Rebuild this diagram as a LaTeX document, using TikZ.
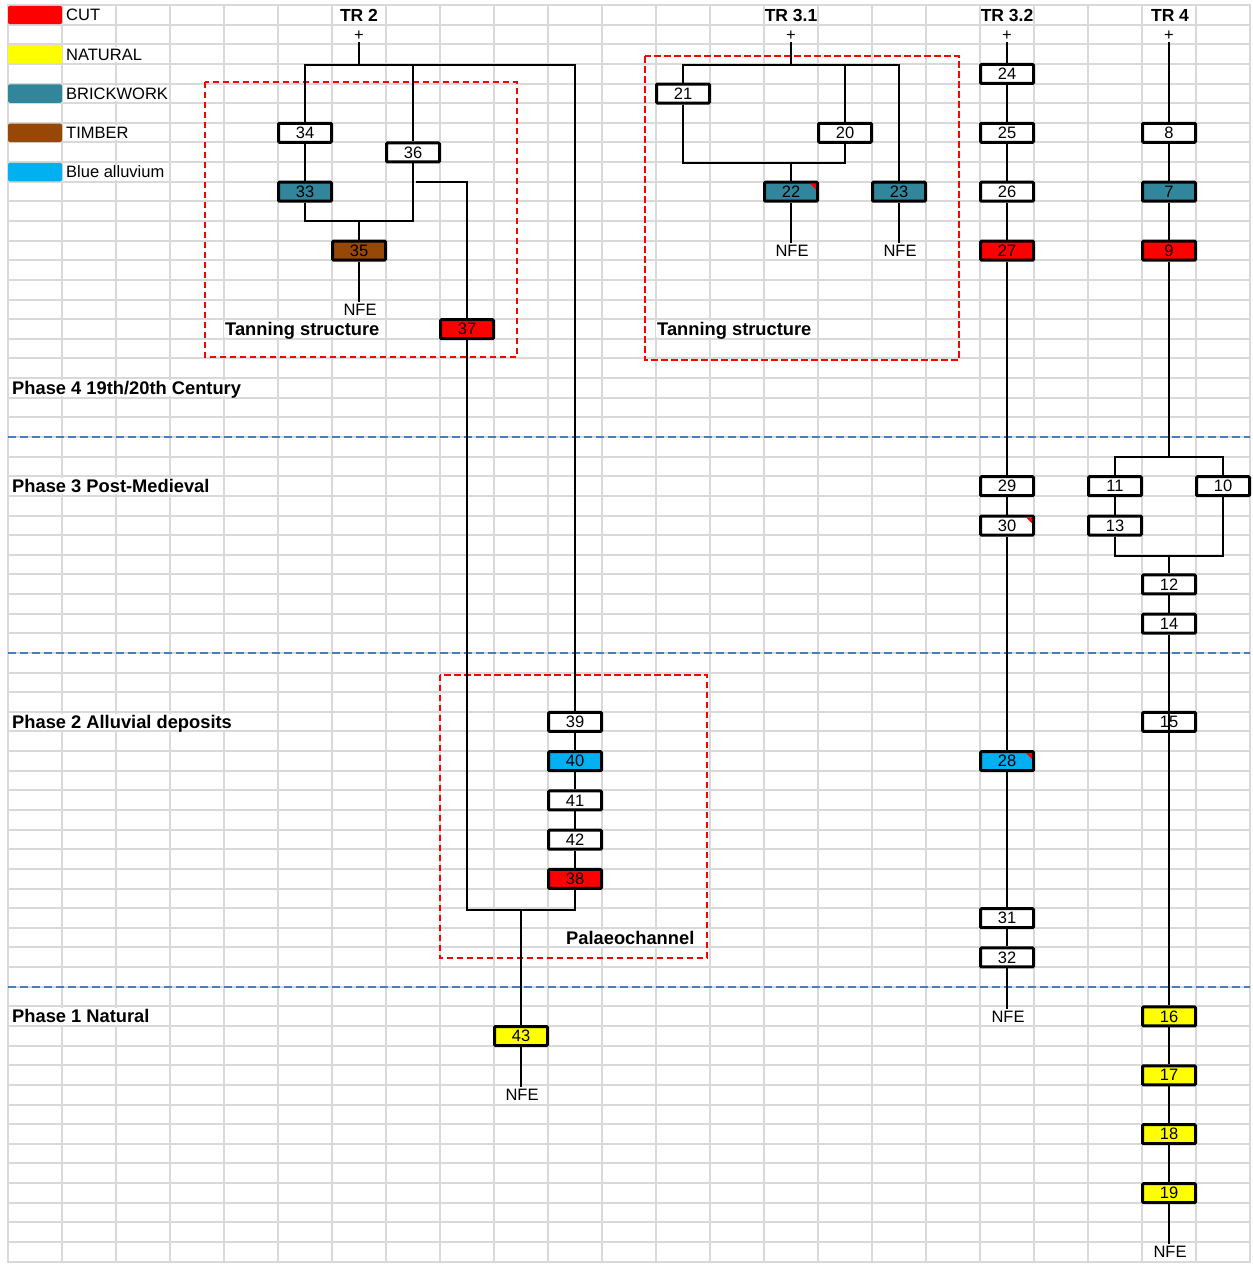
\documentclass[tikz,border=0pt]{standalone}
\usepackage{fontspec}
\setmainfont{Liberation Sans}
\definecolor{cutc}{RGB}{255,0,0}
\definecolor{natc}{RGB}{255,255,0}
\definecolor{brkc}{RGB}{49,134,155}
\definecolor{timc}{RGB}{151,72,6}
\definecolor{bluc}{RGB}{0,176,240}
\definecolor{gridc}{RGB}{217,217,217}
\definecolor{phasec}{RGB}{74,126,187}
\pgfdeclarelayer{gridlayer}
\pgfdeclarelayer{linelayer}
\pgfsetlayers{gridlayer,linelayer,main}
\tikzset{
  ubox/.style={draw=black, line width=3pt, fill=white, minimum width=53pt, minimum height=19pt,
    inner sep=0pt, rounded corners=1pt, font=\fontsize{16.5}{18}\selectfont},
  cutbox/.style={ubox, fill=cutc},
  natbox/.style={ubox, fill=natc},
  brkbox/.style={ubox, fill=brkc},
  timbox/.style={ubox, fill=timc},
  blubox/.style={ubox, fill=bluc},
  lbl/.style={font=\fontsize{16.5}{18}\selectfont, inner xsep=1pt, inner ysep=0pt,
    text height=13.4pt, text depth=1.6pt},
  wlbl/.style={lbl, fill=white},
  blbl/.style={font=\bfseries\fontsize{18.3}{20}\selectfont, fill=white, inner xsep=1pt, inner ysep=0pt,
    text height=14.8pt, text depth=1.7pt},
  hdr/.style={font=\bfseries\fontsize{17.5}{19}\selectfont, inner xsep=1pt, inner ysep=0pt,
    text height=14.2pt, text depth=1.6pt},
  conn/.style={line width=1.5pt, black},
  zone/.style={draw=red, dash pattern=on 6.5pt off 3.5pt, line width=1.6pt},
  phaseline/.style={draw=phasec, dash pattern=on 8pt off 4pt, line width=1.5pt},
  legbox/.style={rounded corners=2pt},
  gridline/.style={draw=gridc, line width=2pt},
  flag/.style={fill=red}
}
\begin{document}
\begin{tikzpicture}[x=1pt, y=-19.635pt]
\useasboundingbox (0,-0.76394) rectangle (1252,63.6107);
\begin{pgfonlayer}{gridlayer}
  \fill[white] (0,-0.76394) rectangle (1252,63.6107);
  \foreach \k in {0,...,23} \draw[gridline] ({8+54*\k},-0.56) -- ({8+54*\k},63.56);
  \foreach \k in {0,...,64} \draw[gridline] (7,\k-0.51) -- (1251,\k-0.51);
\end{pgfonlayer}

% legend
\fill[cutc, legbox] (8,-0.47) rectangle (62,0.47);
\fill[natc, legbox] (8,1.53) rectangle (62,2.47);
\fill[brkc, legbox] (8,3.53) rectangle (62,4.47);
\fill[timc, legbox] (8,5.53) rectangle (62,6.47);
\fill[bluc, legbox] (8,7.53) rectangle (62,8.47);
\node[wlbl, anchor=west] (lgcut) at (65,0) {CUT};
\node[wlbl, anchor=west] (lgnat) at (65,2) {NATURAL};
\node[wlbl, anchor=west] (lgbrk) at (65,4) {BRICKWORK};
\node[wlbl, anchor=west] (lgtim) at (65,6) {TIMBER};
\node[wlbl, anchor=west] (lgblu) at (65,8) {Blue alluvium};

% headers
\node[hdr] (tr2) at (359,0) {TR 2};
\node[hdr] (tr31) at (791,0) {TR 3.1};
\node[hdr] (tr32) at (1007,0) {TR 3.2};
\node[hdr] (tr4) at (1170,0) {TR 4};
\node[lbl] (p2) at (359,1) {+};
\node[lbl] (p31) at (791,1) {+};
\node[lbl] (p32) at (1007,1) {+};
\node[lbl] (p4) at (1169,1) {+};

% phase labels
\node[blbl, anchor=west] (ph4) at (11,19) {Phase 4 19th/20th Century};
\node[blbl, anchor=west] (ph3) at (11,24) {Phase 3 Post-Medieval};
\node[blbl, anchor=west] (ph2) at (11,36) {Phase 2 Alluvial deposits};
\node[blbl, anchor=west] (ph1) at (11,51) {Phase 1 Natural};

% zone labels
\node[blbl, anchor=west] (zt2) at (224,16) {Tanning structure};
\node[blbl, anchor=west] (zt31) at (656,16) {Tanning structure};
\node[blbl, anchor=west] (zpal) at (565,47) {Palaeochannel};

% TR2 units
\node[ubox] (n34) at (305,6) {34};
\node[ubox] (n36) at (413,7) {36};
\node[brkbox] (n33) at (305,9) {33};
\node[timbox] (n35) at (359,12) {35};
\node[lbl] (nfe35) at (360,15) {NFE};
\node[cutbox] (n37) at (467,16) {37};
\node[ubox] (n39) at (575,36) {39};
\node[blubox] (n40) at (575,38) {40};
\node[ubox] (n41) at (575,40) {41};
\node[ubox] (n42) at (575,42) {42};
\node[cutbox] (n38) at (575,44) {38};
\node[natbox] (n43) at (521,52) {43};
\node[lbl] (nfe43) at (522,55) {NFE};

% TR3.1 units
\node[ubox] (n21) at (683,4) {21};
\node[ubox] (n20) at (845,6) {20};
\node[brkbox] (n22) at (791,9) {22};
\node[brkbox] (n23) at (899,9) {23};
\node[lbl] (nfe22) at (792,12) {NFE};
\node[lbl] (nfe23) at (900,12) {NFE};

% TR3.2 units
\node[ubox] (n24) at (1007,3) {24};
\node[ubox] (n25) at (1007,6) {25};
\node[ubox] (n26) at (1007,9) {26};
\node[cutbox] (n27) at (1007,12) {27};
\node[ubox] (n29) at (1007,24) {29};
\node[ubox] (n30) at (1007,26) {30};
\node[blubox] (n28) at (1007,38) {28};
\node[ubox] (n31) at (1007,46) {31};
\node[ubox] (n32) at (1007,48) {32};
\node[lbl] (nfe32) at (1008,51) {NFE};

% TR4 units
\node[ubox] (n8) at (1169,6) {8};
\node[brkbox] (n7) at (1169,9) {7};
\node[cutbox] (n9) at (1169,12) {9};
\node[ubox] (n11) at (1115,24) {11};
\node[ubox] (n10) at (1223,24) {10};
\node[ubox] (n13) at (1115,26) {13};
\node[ubox] (n12) at (1169,29) {12};
\node[ubox] (n14) at (1169,31) {14};
\node[ubox] (n15) at (1169,36) {15};
\node[natbox] (n16) at (1169,51) {16};
\node[natbox] (n17) at (1169,54) {17};
\node[natbox] (n18) at (1169,57) {18};
\node[natbox] (n19) at (1169,60) {19};
\node[lbl] (nfe4) at (1170,63) {NFE};

% comment flags
\fill[flag] ([xshift=-3pt,yshift=-3pt]n22.north east) -- ++(-6pt,0pt) -- ++(6pt,-6pt) -- cycle;
\fill[flag] ([xshift=-3pt,yshift=-3pt]n30.north east) -- ++(-6pt,0pt) -- ++(6pt,-6pt) -- cycle;
\fill[flag] ([xshift=-3pt,yshift=-3pt]n28.north east) -- ++(-6pt,0pt) -- ++(6pt,-6pt) -- cycle;

\begin{pgfonlayer}{linelayer}
  % zones and phase lines
  \draw[zone] (205,3.41) rectangle (517,17.42);
  \draw[zone] (645,2.09) rectangle (959,17.57);
  \draw[zone] (440,33.6) rectangle (707,48.026);
  \draw[phaseline] (8,21.49) -- (1250,21.49);
  \draw[phaseline] (8,32.49) -- (1250,32.49);
  \draw[phaseline] (8,49.49) -- (1250,49.49);

  % TR2 connectors
  \coordinate (j2) at (359,2.55);
  \draw[conn] (p2.south) -- (j2);
  \draw[conn] (n34.north) -- (n34.north |- j2) -- (n39.north |- j2) -- (n39.north);
  \draw[conn] (n36.north) -- (n36.north |- j2);
  \draw[conn] (n34) -- (n33);
  \coordinate (j35) at (359,10.5);
  \draw[conn] (n33.south) -- (n33.south |- j35) -- (n36.south |- j35) -- (n36.south);
  \draw[conn] (j35) -- (n35.north);
  \draw[conn] (n35.south) -- (n35.south |- nfe35.north);
  \coordinate (b36) at (416,8.5);
  \draw[conn] (b36) -| (n37.north);
  \coordinate (j43) at (521,45.58);
  \draw[conn] (n37.south) -- (n37.south |- j43) -- (n38.south |- j43) -- (n38.south);
  \draw[conn] (j43) -- (n43.north);
  \draw[conn] (n43.south) -- (n43.south |- nfe43.north);
  \draw[conn] (n39) -- (n40);
  \draw[conn] (n40) -- (n41);
  \draw[conn] (n41) -- (n42);
  \draw[conn] (n42) -- (n38);

  % TR3.1 connectors
  \coordinate (j31) at (791,2.55);
  \draw[conn] (p31.south) -- (j31);
  \draw[conn] (n21.north) -- (n21.north |- j31) -- (n23.north |- j31) -- (n23.north);
  \draw[conn] (n20.north) -- (n20.north |- j31);
  \coordinate (j22) at (791,7.54);
  \draw[conn] (n21.south) -- (n21.south |- j22) -- (n20.south |- j22) -- (n20.south);
  \draw[conn] (j22) -- (n22.north);
  \draw[conn] (n22.south) -- (n22.south |- nfe22.north);
  \draw[conn] (n23.south) -- (n23.south |- nfe23.north);

  % TR3.2 connectors
  \draw[conn] (p32.south) -- (n24.north);
  \draw[conn] (n24) -- (n25);
  \draw[conn] (n25) -- (n26);
  \draw[conn] (n26) -- (n27);
  \draw[conn] (n27) -- (n29);
  \draw[conn] (n29) -- (n30);
  \draw[conn] (n30) -- (n28);
  \draw[conn] (n28) -- (n31);
  \draw[conn] (n31) -- (n32);
  \draw[conn] (n32.south) -- (n32.south |- nfe32.north);

  % TR4 connectors
  \draw[conn] (p4.south) -- (n8.north);
  \draw[conn] (n8) -- (n7);
  \draw[conn] (n7) -- (n9);
  \coordinate (j4a) at (1169,22.51);
  \draw[conn] (n9.south) -- (j4a);
  \draw[conn] (n11.north) -- (n11.north |- j4a) -- (n10.north |- j4a) -- (n10.north);
  \draw[conn] (n11) -- (n13);
  \coordinate (j4b) at (1169,27.55);
  \draw[conn] (n13.south) -- (n13.south |- j4b) -- (n10.south |- j4b) -- (n10.south);
  \draw[conn] (j4b) -- (n12.north);
  \draw[conn] (n12) -- (n14);
  \draw[conn] (n14) -- (n15);
  \draw[conn] (n15) -- (n16);
  \draw[conn] (n16) -- (n17);
  \draw[conn] (n17) -- (n18);
  \draw[conn] (n18) -- (n19);
  \draw[conn] (n19.south) -- (n19.south |- nfe4.north);
\end{pgfonlayer}
% line shown through unit 15
\draw[conn] (n15.north) -- (n15.south);
\end{tikzpicture}
\end{document}
